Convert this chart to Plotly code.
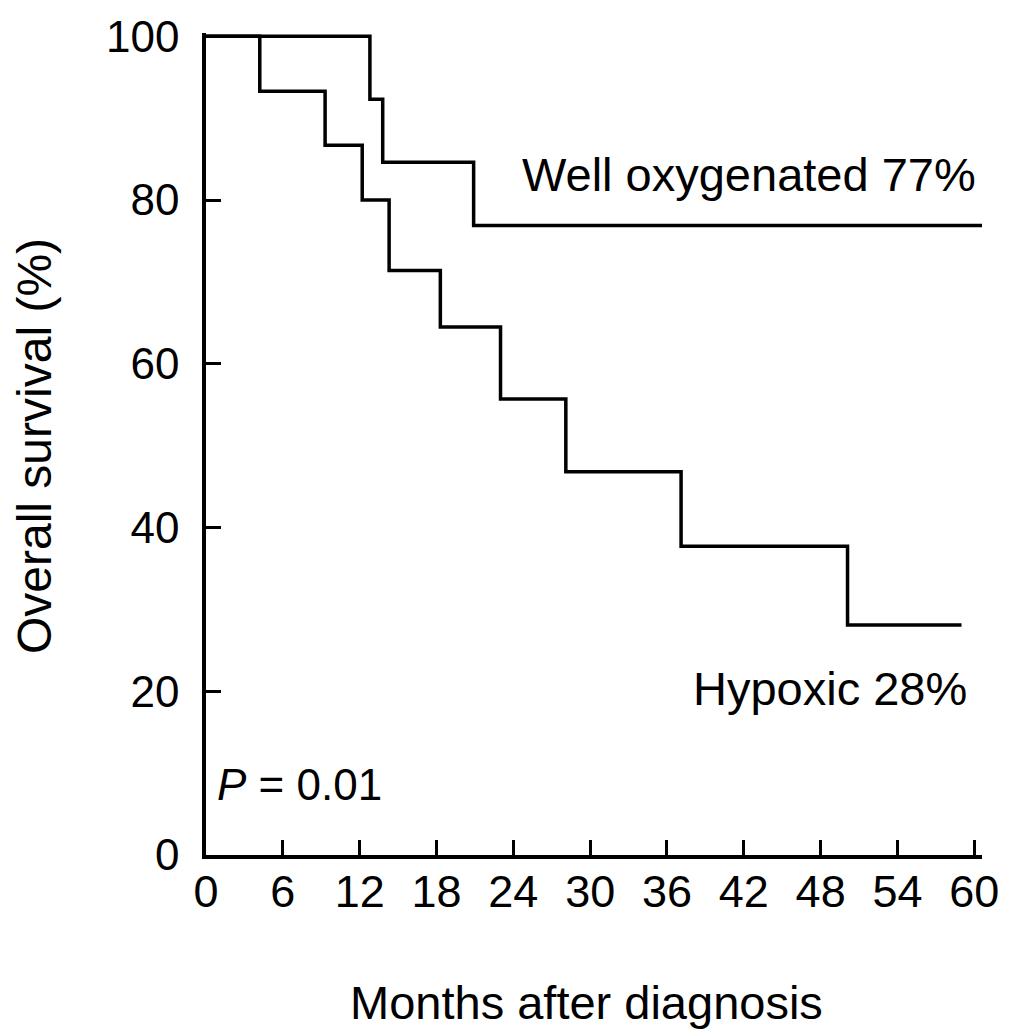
import plotly.graph_objects as go

# Kaplan-Meier step data (months, % survival)
well_months = [0, 12.8, 13.8, 20.9, 60.6]
well_surv = [100, 92.3, 84.6, 76.9, 76.9]

hyp_months = [0, 4.2, 9.3, 12.2, 14.3, 18.3, 23.0, 28.1, 37.1, 50.1, 59.0]
hyp_surv = [100, 93.3, 86.7, 80.0, 71.4, 64.5, 55.7, 46.8, 37.7, 28.1, 28.1]

x_ticks = [0, 6, 12, 18, 24, 30, 36, 42, 48, 54, 60]
y_ticks = [0, 20, 40, 60, 80, 100]

FONT = "Liberation Sans, Arial, Helvetica, sans-serif"

fig = go.Figure()
fig.add_trace(go.Scatter(x=well_months, y=well_surv, mode="lines",
                         line=dict(shape="hv", color="black", width=3.5),
                         showlegend=False))
fig.add_trace(go.Scatter(x=hyp_months, y=hyp_surv, mode="lines",
                         line=dict(shape="hv", color="black", width=3.5),
                         showlegend=False))

fig.update_layout(
    width=1011, height=1029,
    margin=dict(l=206, r=26, t=28, b=174),
    paper_bgcolor="white", plot_bgcolor="white",
    font=dict(family=FONT, color="black", size=44),
)
fig.update_xaxes(range=[0, 60.6], tickvals=x_ticks, ticktext=[str(v) for v in x_ticks],
                 showline=True, linecolor="black", linewidth=3.5,
                 ticks="inside", ticklen=15, tickwidth=3, tickcolor="black",
                 showgrid=False, zeroline=False, ticklabelstandoff=-6,
                 tickfont=dict(size=45, family=FONT))
fig.update_yaxes(range=[0, 100.4], tickvals=y_ticks, ticktext=[str(v) for v in y_ticks],
                 showline=True, linecolor="black", linewidth=3.5,
                 ticks="inside", ticklen=15, tickwidth=3, tickcolor="black",
                 showgrid=False, zeroline=False, ticklabelstandoff=14,
                 tickfont=dict(size=44, family=FONT))

fig.add_annotation(x=60.3, y=83.1, xref="x", yref="y", text="Well oxygenated 77%",
                   showarrow=False, xanchor="right", yanchor="middle",
                   font=dict(size=47, family=FONT))
fig.add_annotation(x=59.6, y=20.3, xref="x", yref="y", text="Hypoxic 28%",
                   showarrow=False, xanchor="right", yanchor="middle",
                   font=dict(size=47, family=FONT))
fig.add_annotation(x=0.7, y=8.6, xref="x", yref="y", text="<i>P</i> = 0.01",
                   showarrow=False, xanchor="left", yanchor="middle",
                   font=dict(size=44, family=FONT))

fig.add_annotation(x=0.5, y=0, xref="paper", yref="paper", text="Months after diagnosis",
                   showarrow=False, xanchor="center", yanchor="top", yshift=-119,
                   xshift=-8, font=dict(size=47, family=FONT))
fig.add_annotation(x=0, y=0.5, xref="paper", yref="paper", text="Overall survival (%)",
                   showarrow=False, textangle=-90, xanchor="center", yanchor="middle",
                   xshift=-172, yshift=-2, font=dict(size=48, family=FONT))

fig.write_html("out.html")
